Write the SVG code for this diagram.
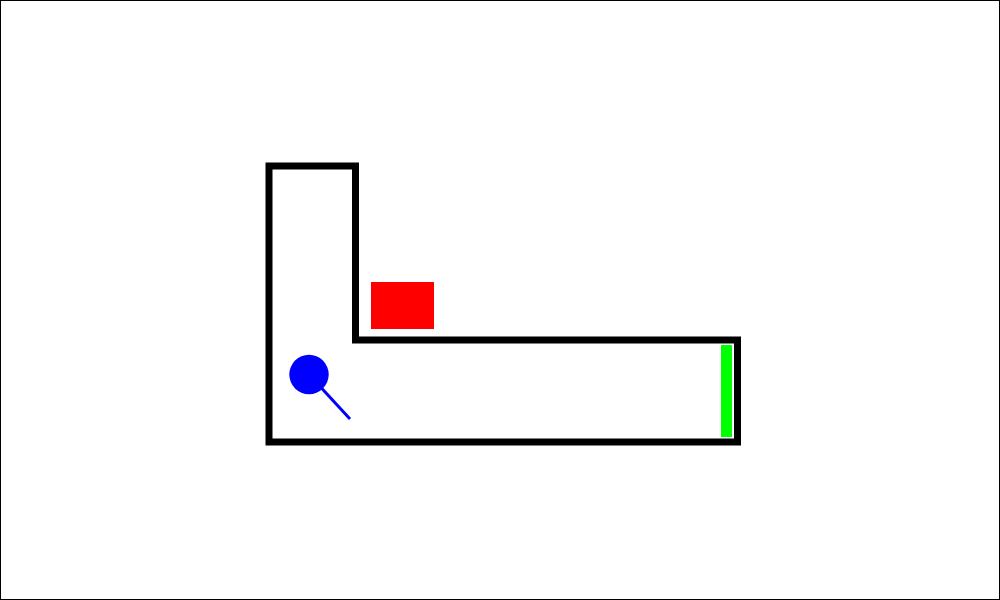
<svg xmlns="http://www.w3.org/2000/svg" width="1000" height="600" viewBox="0 0 1000 600">
<style>
.wall{fill:none;stroke:#000;stroke-width:7;stroke-linejoin:miter}
</style>
<rect x="0.5" y="0.5" width="999" height="599" fill="#fff" stroke="#000" stroke-width="1"/>
<g id="room">
<path class="wall" d="M269,166 H355.5 V340 H737.5 V442 H269 Z"/>
</g>
<g id="box"><rect x="371" y="282" width="63" height="47" fill="#f00"/></g>
<g id="door"><rect x="721" y="345" width="11" height="92" fill="#0f0"/></g>
<g id="robot">
<circle cx="309" cy="374.5" r="19.7" fill="#00f"/>
<line x1="309" y1="374.5" x2="350" y2="419" stroke="#00f" stroke-width="3"/>
</g>
</svg>
